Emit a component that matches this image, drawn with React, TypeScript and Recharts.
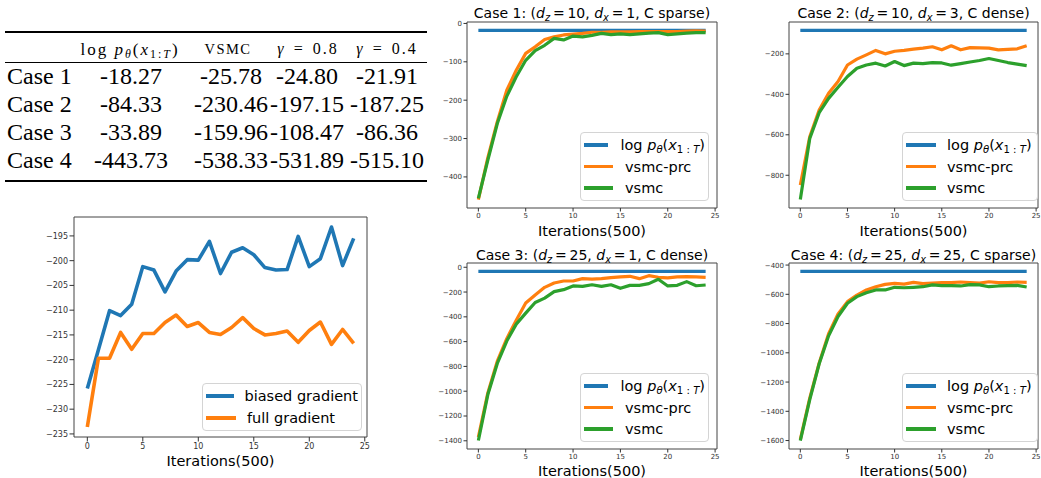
import React from "react"
import { LineChart, Line, XAxis, YAxis, ReferenceArea, Legend } from "recharts"

// x categories (iterations, in units of 500)
const iterations = [0, 1, 2, 3, 4, 5, 6, 7, 8, 9, 10, 11, 12, 13, 14, 15, 16, 17, 18, 19, 20, 21, 22, 23, 24]
const xTicks = [0, 5, 10, 15, 20, 25]

// bottom-left panel
const biasedGradient = [-225.8, -218.0, -210.1, -211.1, -208.8, -201.2, -201.9, -206.3, -202.1, -199.8, -199.9, -196.1, -202.6, -198.3, -197.4, -198.8, -201.4, -201.9, -201.8, -195.1, -201.2, -199.6, -193.2, -201.0, -195.5]
const fullGradient = [-233.6, -219.7, -219.7, -214.5, -217.9, -214.7, -214.7, -212.5, -211.0, -213.3, -212.5, -214.5, -214.9, -213.5, -211.5, -213.7, -215.0, -214.7, -214.2, -216.5, -214.1, -212.4, -216.9, -213.9, -216.7]
const gradientTicks = [-235, -230, -225, -220, -215, -210, -205, -200, -195]

// case panels
const logLikelihood = [-18.27, -84.33, -33.89, -443.73]

const vsmcPrc1 = [-459, -350, -256, -174, -122, -78, -61, -42, -35, -30, -28, -26, -23, -23, -22, -22, -22, -21, -21, -21, -21, -21, -20, -19, -20]
const vsmc1 = [-456, -356, -261, -190, -139, -96, -71, -57, -39, -43, -33, -35, -31, -26, -29, -27, -29, -27, -25, -24, -29, -27, -25, -24, -24]
const case1Ticks = [-400, -300, -200, -100, 0]

const vsmcPrc2 = [-849, -610, -478, -395, -337, -255, -226, -205, -183, -200, -187, -183, -177, -172, -165, -180, -160, -180, -169, -170, -172, -180, -178, -175, -160]
const vsmc2 = [-920, -618, -491, -420, -365, -312, -271, -255, -246, -260, -238, -258, -246, -248, -243, -245, -256, -248, -240, -233, -223, -233, -243, -251, -258]
const case2Ticks = [-800, -600, -400, -200]

const vsmcPrc3 = [-1370, -1014, -757, -576, -427, -289, -224, -162, -127, -111, -111, -92, -95, -92, -84, -78, -73, -92, -68, -81, -86, -78, -76, -78, -81]
const vsmc3 = [-1398, -1027, -776, -595, -459, -370, -284, -249, -197, -181, -151, -154, -141, -154, -141, -170, -146, -146, -132, -97, -151, -146, -116, -149, -143]
const case3Ticks = [-1400, -1200, -1000, -800, -600, -400, -200, 0]

const vsmcPrc4 = [-1593, -1310, -1070, -870, -734, -650, -605, -570, -548, -532, -525, -530, -518, -527, -523, -520, -520, -516, -520, -523, -514, -520, -520, -516, -518]
const vsmc4 = [-1600, -1320, -1075, -884, -752, -661, -616, -589, -570, -570, -552, -555, -552, -548, -536, -541, -541, -543, -534, -536, -548, -543, -541, -539, -550]
const case4Ticks = [-1600, -1400, -1200, -1000, -800, -600, -400]

// table
const tableRows = ["Case 1", "Case 2", "Case 3", "Case 4"]
const tableLogP = ["-18.27", "-84.33", "-33.89", "-443.73"]
const tableVsmc = ["-25.78", "-230.46", "-159.96", "-538.33"]
const tableGamma08 = ["-24.80", "-197.15", "-108.47", "-531.89"]
const tableGamma04 = ["-21.91", "-187.25", "-86.36", "-515.10"]

const BLUE = "#1f77b4"
const ORANGE = "#ff7f0e"
const GREEN = "#2ca02c"

const sub = (s: React.ReactNode) => (
  <span style={{ fontSize: "0.7em", verticalAlign: "-0.3em", lineHeight: 0 }}>{s}</span>
)

const logPLabel = (
  <span>
    log <i>p</i>{sub(<i>θ</i>)}(<i>x</i>{sub(<span>1 : <i>T</i></span>)})
  </span>
)

const caseTitle = (n: number, dz: number, dx: number, kind: string) => (
  <span>
    Case {n}: (<i>d</i>{sub(<i>z</i>)}{"\u2009=\u2009"}{dz}, <i>d</i>{sub(<i>x</i>)}{"\u2009=\u2009"}{dx}, C {kind})
  </span>
)

const minus = (v: number) => (v < 0 ? "\u2212" + Math.abs(v) : String(v))

type Series = { key: string; label: React.ReactNode; color: string }

function LegendBox({ series, rowH, handle, gap }: { series: Series[]; rowH: number; handle: number; gap: number }) {
  return (
    <div
      style={{
        background: "rgba(255,255,255,0.85)",
        border: "1px solid #d4d4d4",
        borderRadius: 4,
        padding: "1px 3px",
        fontSize: 14.5,
        color: "#000",
        boxSizing: "border-box",
      }}
    >
      {series.map((s) => (
        <div key={s.key} style={{ display: "flex", alignItems: "center", height: rowH, whiteSpace: "nowrap" }}>
          <span style={{ display: "inline-block", width: handle, height: 3.5, background: s.color, marginRight: gap }} />
          {s.label}
        </div>
      ))}
    </div>
  )
}

type PanelProps = {
  x: number
  y: number
  w: number
  h: number
  yw: number
  xh: number
  data: any[]
  series: Series[]
  yTicks: number[]
  tickFont: number
  tickSize: number
  stroke: number
  legend: { x: number; y: number; w: number; rowH: number; handle: number; gap: number }
  title?: React.ReactNode
  titleY?: number
}

function Panel(p: PanelProps) {
  const values = p.data.flatMap((d) => p.series.map((s) => d[s.key] as number))
  const lo = Math.min(...values)
  const hi = Math.max(...values)
  const pad = (hi - lo) * 0.05
  const domain: [number, number] = [lo - pad, hi + pad]
  const mt = 2
  const mr = 3
  const left = p.x - p.yw
  const top = p.y - mt
  return (
    <div style={{ position: "absolute", left, top }}>
      <LineChart width={p.yw + p.w + mr} height={mt + p.h + p.xh + 5} data={p.data} margin={{ top: mt, right: mr, left: 0, bottom: 5 }}>
        <XAxis
          dataKey="it"
          type="number"
          domain={[-1.2, 25.2]}
          allowDataOverflow
          ticks={xTicks}
          interval={0}
          height={p.xh}
          axisLine={false}
          tickLine={{ stroke: "#333" }}
          tickSize={p.tickSize}
          tickMargin={2}
          tick={{ fontSize: p.tickFont, fill: "#333" }}
          label={{ value: "Iterations(500)", position: "insideBottom", offset: 0, fontSize: 14.5, fill: "#000" }}
        />
        <YAxis
          type="number"
          domain={domain}
          allowDataOverflow
          ticks={p.yTicks}
          interval={0}
          width={p.yw}
          axisLine={false}
          tickLine={{ stroke: "#333" }}
          tickSize={p.tickSize}
          tickMargin={1.5}
          tickFormatter={minus}
          tick={{ fontSize: p.tickFont, fill: "#333" }}
        />
        <ReferenceArea x1={-1.2} x2={25.2} y1={domain[0]} y2={domain[1]} fill="none" fillOpacity={0} stroke="#444" strokeWidth={1} />
        {p.series.map((s) => (
          <Line
            key={s.key}
            type="linear"
            dataKey={s.key}
            name={s.key}
            stroke={s.color}
            strokeWidth={p.stroke}
            strokeLinejoin="round"
            dot={false}
            activeDot={false}
            isAnimationActive={false}
          />
        ))}
        <Legend
          layout="vertical"
          align="center"
          verticalAlign="middle"
          wrapperStyle={{ left: p.legend.x - left, top: p.legend.y - top, width: p.legend.w, right: "auto", bottom: "auto" }}
          content={() => <LegendBox series={p.series} rowH={p.legend.rowH} handle={p.legend.handle} gap={p.legend.gap} />}
        />
      </LineChart>
      {p.title && (
        <div
          style={{
            position: "absolute",
            left: p.yw - 20,
            width: p.w + 40,
            top: (p.titleY ?? 0) - top - 7,
            textAlign: "center",
            fontSize: 14,
            lineHeight: "14px",
            whiteSpace: "nowrap",
            color: "#000",
          }}
        >
          {p.title}
        </div>
      )}
    </div>
  )
}

const gradientData = iterations.map((it, i) => ({ it, biased: biasedGradient[i], full: fullGradient[i] }))
const caseData = (k: number, prc: number[], plain: number[]) =>
  iterations.map((it, i) => ({ it, logp: logLikelihood[k], prc: prc[i], vsmc: plain[i] }))

const caseSeries: Series[] = [
  { key: "logp", label: logPLabel, color: BLUE },
  { key: "prc", label: "vsmc-prc", color: ORANGE },
  { key: "vsmc", label: "vsmc", color: GREEN },
]
const gradientSeries: Series[] = [
  { key: "biased", label: "biased gradient", color: BLUE },
  { key: "full", label: "full gradient", color: ORANGE },
]

const serif = '"Liberation Serif", "Times New Roman", serif'

function Table() {
  const colX = [131, 231, 307, 387]
  const cell = (x: number, y: number, content: React.ReactNode, size: number, extra: React.CSSProperties = {}) => (
    <div
      style={{
        position: "absolute",
        left: x,
        top: y,
        transform: "translate(-50%, -50%)",
        fontSize: size,
        lineHeight: 1,
        whiteSpace: "nowrap",
        ...extra,
      }}
    >
      {content}
    </div>
  )
  const cols = [tableLogP, tableVsmc, tableGamma08, tableGamma04]
  const rowY = [76, 104, 132, 160]
  return (
    <div style={{ position: "absolute", left: 0, top: 0, fontFamily: serif, color: "#000" }}>
      <div style={{ position: "absolute", left: 5, top: 31, width: 422, height: 1.5, background: "#000" }} />
      <div style={{ position: "absolute", left: 5, top: 62, width: 422, height: 1, background: "#000" }} />
      <div style={{ position: "absolute", left: 5, top: 180, width: 422, height: 1.5, background: "#000" }} />
      {cell(130, 49, <span>log <i>p</i>{sub(<i>θ</i>)}(<i>x</i>{sub(<span>1:<i>T</i></span>)})</span>, 17, { letterSpacing: 2 })}
      {cell(228, 49, "VSMC", 14.5, { letterSpacing: 1.5 })}
      {cell(308, 49, <span><i>γ</i> = 0.8</span>, 16, { letterSpacing: 2, wordSpacing: 2 })}
      {cell(387, 49, <span><i>γ</i> = 0.4</span>, 16, { letterSpacing: 2, wordSpacing: 2 })}
      {tableRows.map((r, i) => (
        <div
          key={r}
          style={{ position: "absolute", left: 7, top: rowY[i], transform: "translateY(-50%)", fontSize: 24, lineHeight: 1, whiteSpace: "nowrap" }}
        >
          {r}
        </div>
      ))}
      {cols.map((col, c) => col.map((v, i) => <React.Fragment key={c + "-" + i}>{cell(colX[c], rowY[i], v, 24)}</React.Fragment>))}
    </div>
  )
}

export default function App() {
  const topLegendRow = 21.7
  return (
    <div
      style={{
        position: "absolute",
        left: 0,
        top: 0,
        width: 1041,
        height: 478,
        background: "#fff",
        overflow: "hidden",
        fontFamily: '"DejaVu Sans", sans-serif',
      }}
    >
      <Table />
      <Panel
        x={74}
        y={217}
        w={293}
        h={220}
        yw={45}
        xh={29}
        data={gradientData}
        series={gradientSeries}
        yTicks={gradientTicks}
        tickFont={8}
        tickSize={4.5}
        stroke={3.6}
        legend={{ x: 202, y: 383, w: 160, rowH: 22, handle: 30, gap: 11 }}
      />
      <Panel
        x={467}
        y={22}
        w={250}
        h={186}
        yw={40}
        xh={28}
        data={caseData(0, vsmcPrc1, vsmc1)}
        series={caseSeries}
        yTicks={case1Ticks}
        tickFont={7}
        tickSize={3.5}
        stroke={3.2}
        legend={{ x: 580, y: 132, w: 129, rowH: topLegendRow, handle: 29, gap: 12 }}
        title={caseTitle(1, 10, 1, "sparse")}
        titleY={13}
      />
      <Panel
        x={789}
        y={22}
        w={249}
        h={186}
        yw={40}
        xh={28}
        data={caseData(1, vsmcPrc2, vsmc2)}
        series={caseSeries}
        yTicks={case2Ticks}
        tickFont={7}
        tickSize={3.5}
        stroke={3.2}
        legend={{ x: 902, y: 132, w: 136, rowH: topLegendRow, handle: 30, gap: 11 }}
        title={caseTitle(2, 10, 3, "dense")}
        titleY={13}
      />
      <Panel
        x={467}
        y={263}
        w={250}
        h={186}
        yw={40}
        xh={27}
        data={caseData(2, vsmcPrc3, vsmc3)}
        series={caseSeries}
        yTicks={case3Ticks}
        tickFont={7}
        tickSize={3.5}
        stroke={3.2}
        legend={{ x: 580, y: 373, w: 129, rowH: topLegendRow, handle: 29, gap: 12 }}
        title={caseTitle(3, 25, 1, "dense")}
        titleY={255}
      />
      <Panel
        x={789}
        y={263}
        w={249}
        h={186}
        yw={40}
        xh={27}
        data={caseData(3, vsmcPrc4, vsmc4)}
        series={caseSeries}
        yTicks={case4Ticks}
        tickFont={7}
        tickSize={3.5}
        stroke={3.2}
        legend={{ x: 902, y: 373, w: 136, rowH: topLegendRow, handle: 30, gap: 11 }}
        title={caseTitle(4, 25, 25, "sparse")}
        titleY={255}
      />
    </div>
  )
}
